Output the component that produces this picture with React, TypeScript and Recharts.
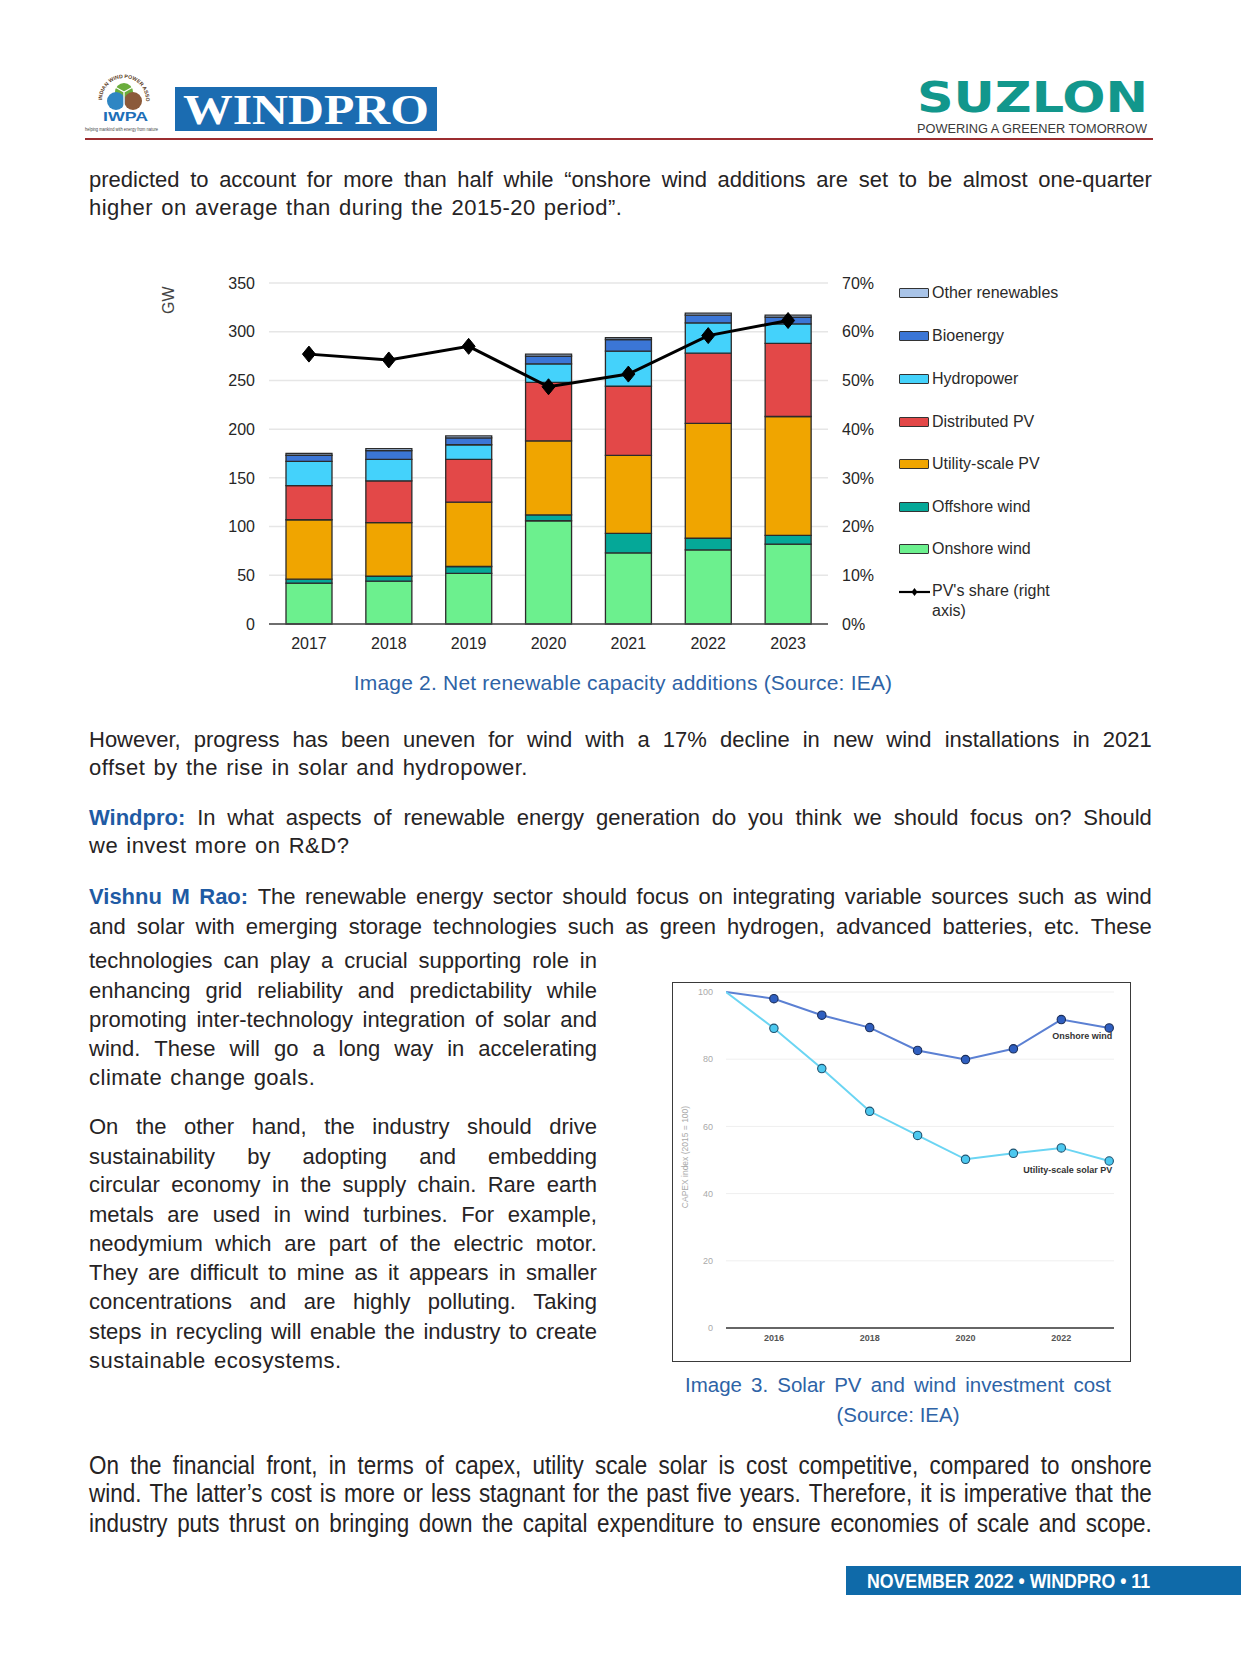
import React from 'react';
import { ComposedChart, LineChart, Bar, Line, XAxis, YAxis, CartesianGrid } from 'recharts';

// ---------- Chart 1 data (GW, net renewable capacity additions) ----------
const years = ['2017', '2018', '2019', '2020', '2021', '2022', '2023'];
const onshoreWind = [42, 44, 52, 106, 73, 76, 82];
const offshoreWind = [4, 5, 7, 6, 20, 12, 9];
const utilityPV = [61, 55, 66, 76, 80, 118, 122];
const distributedPV = [35, 43, 44, 60, 71, 72, 75];
const hydropower = [25, 22, 15, 19, 36, 31, 20];
const bioenergy = [6, 9, 7, 8, 12, 8, 7];
const otherRenewables = [2, 2, 2, 2, 2, 2, 2];
const pvShare = [55.4, 54.2, 57.0, 48.7, 51.3, 59.2, 62.3];
const gwTicks = [0, 50, 100, 150, 200, 250, 300, 350];
const pctTicks = [0, 10, 20, 30, 40, 50, 60, 70];

// ---------- Chart 2 data (CAPEX index, 2015 = 100) ----------
const capexYears = [2015, 2016, 2017, 2018, 2019, 2020, 2021, 2022, 2023];
const onshoreCapex = [100, 98.0, 93.1, 89.4, 82.6, 79.9, 83.1, 91.8, 89.3];
const solarCapex = [100, 89.2, 77.2, 64.5, 57.3, 50.2, 52.0, 53.6, 49.7];
const capexXTicks = [2016, 2018, 2020, 2022];
const capexYTicks = [0, 20, 40, 60, 80, 100];

const series = [
  { key: 'onshore', name: 'Onshore wind', color: '#6cf08e', values: onshoreWind },
  { key: 'offshore', name: 'Offshore wind', color: '#05a898', values: offshoreWind },
  { key: 'utility', name: 'Utility-scale PV', color: '#f0a500', values: utilityPV },
  { key: 'distributed', name: 'Distributed PV', color: '#e34848', values: distributedPV },
  { key: 'hydro', name: 'Hydropower', color: '#44d2fb', values: hydropower },
  { key: 'bio', name: 'Bioenergy', color: '#3b76d6', values: bioenergy },
  { key: 'other', name: 'Other renewables', color: '#a9c4e8', values: otherRenewables },
];

const barData = years.map((y, i) => {
  const row: any = { year: y, share: pvShare[i] };
  series.forEach((s) => { row[s.key] = s.values[i]; });
  return row;
});
const capexData = capexYears.map((y, i) => ({ year: y, onshore: onshoreCapex[i], solar: solarCapex[i] }));

// ---------- Text ----------
type TL = { t: string; y: number; j?: boolean; lead?: string };
const para1: TL[] = [
  { t: 'predicted to account for more than half while \u201Conshore wind additions are set to be almost one-quarter', y: 180.5, j: true },
  { t: 'higher on average than during the 2015-20 period\u201D.', y: 209 },
];
const para2: TL[] = [
  { t: 'However, progress has been uneven for wind with a 17% decline in new wind installations in 2021', y: 740.8, j: true },
  { t: 'offset by the rise in solar and hydropower.', y: 769.3 },
  { lead: 'Windpro:', t: 'In what aspects of renewable energy generation do you think we should focus on? Should', y: 818.9, j: true },
  { t: 'we invest more on R&D?', y: 847.4 },
  { lead: 'Vishnu M Rao:', t: 'The renewable energy sector should focus on integrating variable sources such as wind', y: 898, j: true },
  { t: 'and solar with emerging storage technologies such as green hydrogen, advanced batteries, etc. These', y: 927.6, j: true },
];
const colText: TL[] = [
  { t: 'technologies can play a crucial supporting role in', y: 962.4, j: true },
  { t: 'enhancing grid reliability and predictability while', y: 992, j: true },
  { t: 'promoting inter-technology integration of solar and', y: 1020.5, j: true },
  { t: 'wind. These will go a long way in accelerating', y: 1050, j: true },
  { t: 'climate change goals.', y: 1078.5 },
  { t: 'On the other hand, the industry should drive', y: 1128, j: true },
  { t: 'sustainability by adopting and embedding', y: 1157.7, j: true },
  { t: 'circular economy in the supply chain. Rare earth', y: 1186, j: true },
  { t: 'metals are used in wind turbines. For example,', y: 1215.7, j: true },
  { t: 'neodymium which are part of the electric motor.', y: 1245.3, j: true },
  { t: 'They are difficult to mine as it appears in smaller', y: 1273.7, j: true },
  { t: 'concentrations and are highly polluting. Taking', y: 1303.3, j: true },
  { t: 'steps in recycling will enable the industry to create', y: 1332.8, j: true },
  { t: 'sustainable ecosystems.', y: 1362.4 },
];
const paraLast: TL[] = [
  { t: 'On the financial front, in terms of capex, utility scale solar is cost competitive, compared to onshore', y: 1465.8, j: true },
  { t: 'wind. The latter\u2019s cost is more or less stagnant for the past five years. Therefore, it is imperative that the', y: 1494.3, j: true },
  { t: 'industry puts thrust on bringing down the capital expenditure to ensure economies of scale and scope.', y: 1523.9, j: true },
];

const BODY_FONT = "'Liberation Sans', Arial, Helvetica, sans-serif";
const bodyStyle: React.CSSProperties = { fontFamily: BODY_FONT, fontSize: 22, color: '#262324' };
const condStyle: React.CSSProperties = { fontFamily: BODY_FONT, fontSize: 25.5, color: '#262324' };
const leadStyle: React.CSSProperties = { fontWeight: 700, color: '#1f5ba4' };

function TextLine({ l, x, w, font, sx = 1 }: { l: TL; x: number; w: number; font: React.CSSProperties; sx?: number }) {
  const words = [
    ...(l.lead ? l.lead.split(' ').map((s) => ({ s, b: true })) : []),
    ...l.t.split(' ').map((s) => ({ s, b: false })),
  ];
  const common: React.CSSProperties = {
    position: 'absolute', left: x, top: l.y - 16, width: w / sx, height: 30, lineHeight: '30px', whiteSpace: 'nowrap',
    transform: sx !== 1 ? `scaleX(${sx})` : undefined, transformOrigin: '0 0', ...font,
  };
  if (l.j) {
    return (
      <div style={{ ...common, display: 'flex', justifyContent: 'space-between' }}>
        {words.map((a, i) => <span key={i} style={a.b ? leadStyle : undefined}>{a.s}</span>)}
      </div>
    );
  }
  return (
    <div style={{ ...common, letterSpacing: 0.5, wordSpacing: 1.5 }}>
      {words.map((a, i) => (
        <React.Fragment key={i}>{i > 0 ? ' ' : ''}<span style={a.b ? leadStyle : undefined}>{a.s}</span></React.Fragment>
      ))}
    </div>
  );
}

const Diamond = (p: any) => {
  const { cx, cy, index } = p;
  if (cx == null || cy == null) return <g key={`d-${index}`} />;
  return (
    <path key={`d-${index}`} d={`M${cx},${cy - 8} L${cx + 6.5},${cy} L${cx},${cy + 8} L${cx - 6.5},${cy} Z`} fill="#000" stroke="#000" strokeWidth={1} />
  );
};

const capexDot = (fill: string, stroke: string, label: string) => (p: any) => {
  const { cx, cy, index } = p;
  if (cx == null || cy == null || index === 0) return <g key={`c-${index}`} />;
  return (
    <g key={`c-${index}`}>
      <circle cx={cx} cy={cy} r={4.2} fill={fill} stroke={stroke} strokeWidth={1.1} />
      {index === capexYears.length - 1 ? (
        <text x={cx + 3} y={cy + 11.5} textAnchor="end" fontSize={9} fontWeight={700} fill="#333">{label}</text>
      ) : null}
    </g>
  );
};

const svgVis: React.CSSProperties = { position: 'absolute', overflow: 'visible' };

function IwpaLogo() {
  return (
    <svg style={{ ...svgVis, left: 82, top: 70 }} width={82} height={68}>
      <defs>
        <path id="arcP" d="M 20 30 A 22 22 0 0 1 64 30" />
      </defs>
      <text fontSize={5.2} fontWeight={700} fill="#5a3a22" fontFamily={BODY_FONT}>
        <textPath href="#arcP">INDIAN WIND POWER ASSOCIATION</textPath>
      </text>
      <circle cx={42} cy={22} r={9} fill="#6aad3d" />
      <circle cx={51} cy={31} r={9} fill="#8b5a3a" />
      <circle cx={34} cy={31} r={9} fill="#2f86c3" />
      <path d="M42 22 L42 40 M42 22 L33 17 M42 22 L51 17" stroke="#fff" strokeWidth={1.3} />
      <text x={21} y={51} fontSize={13} fontWeight={700} fill="#1d6fb8" fontFamily={BODY_FONT} textLength={45} lengthAdjust="spacingAndGlyphs">IWPA</text>
      <text x={3} y={61} fontSize={5} fill="#444" fontFamily={BODY_FONT} textLength={73} lengthAdjust="spacingAndGlyphs">helping mankind with energy from nature</text>
    </svg>
  );
}

function Header() {
  return (
    <>
      <IwpaLogo />
      <div style={{ position: 'absolute', left: 175, top: 87, width: 262, height: 44, background: '#1b6cb1' }} />
      <svg style={{ ...svgVis, left: 175, top: 87 }} width={262} height={44}>
        <text x={8} y={37} fontSize={42} fontWeight={700} fill="#fff" fontFamily="'Liberation Serif', 'Times New Roman', serif" textLength={246} lengthAdjust="spacingAndGlyphs">WINDPRO</text>
      </svg>
      <svg style={{ ...svgVis, left: 912, top: 74 }} width={245} height={64}>
        <text x={5} y={38} fontSize={42} fontWeight={700} fill="#12978c" fontFamily="'DejaVu Sans', sans-serif" textLength={231} lengthAdjust="spacingAndGlyphs">SUZLON</text>
        <text x={5} y={58.5} fontSize={12} fill="#3a3a3a" fontFamily={BODY_FONT} textLength={230} lengthAdjust="spacingAndGlyphs">POWERING A GREENER TOMORROW</text>
      </svg>
      <div style={{ position: 'absolute', left: 85, top: 138, width: 1068, height: 2, background: '#9b2d30' }} />
    </>
  );
}

const legendText: React.CSSProperties = { position: 'absolute', left: 932, fontSize: 16, lineHeight: '20px', color: '#2a2a2a', fontFamily: BODY_FONT, whiteSpace: 'nowrap' };

function BarLegend() {
  const items = [...series].reverse();
  const ys = [293, 336, 379, 421.5, 464, 507, 549];
  return (
    <>
      {items.map((s, i) => (
        <React.Fragment key={s.key}>
          <div style={{ position: 'absolute', left: 899, top: ys[i] - 5, width: 28, height: 8, background: s.color, border: '1px solid #333', borderRadius: 1 }} />
          <div style={{ ...legendText, top: ys[i] - 10 }}>{s.name}</div>
        </React.Fragment>
      ))}
      <svg style={{ position: 'absolute', left: 897, top: 584 }} width={36} height={16}>
        <line x1={2} y1={8} x2={33} y2={8} stroke="#000" strokeWidth={2.2} />
        <path d="M17.5,4 L20.5,8 L17.5,12 L14.5,8 Z" fill="#000" />
      </svg>
      <div style={{ ...legendText, top: 581 }}>
        PV's share (right<br />axis)
      </div>
    </>
  );
}

function CapacityChart() {
  return (
    <>
      <div style={{ position: 'absolute', left: 150, top: 263 }}>
        <ComposedChart width={750} height={400} data={barData} margin={{ top: 20, right: 0, bottom: 0, left: 0 }}>
          <CartesianGrid vertical={false} yAxisId="left" stroke="#e6e6e6" strokeWidth={1.5} />
          <XAxis dataKey="year" tickLine={false} axisLine={{ stroke: '#444', strokeWidth: 1.5 }} tick={{ fontSize: 16, fill: '#262626' }} height={39} tickMargin={8} />
          <YAxis yAxisId="left" domain={[0, 350]} ticks={gwTicks} width={119} axisLine={false} tickLine={false} tickMargin={8} tick={{ fontSize: 16, fill: '#262626' }} />
          <YAxis yAxisId="right" orientation="right" domain={[0, 70]} ticks={pctTicks} width={72} axisLine={false} tickLine={false} tickMargin={8} tick={{ fontSize: 16, fill: '#262626', textAnchor: 'start' }} tickFormatter={(v: number) => `${v}%`} />
          {series.map((s) => (
            <Bar key={s.key} yAxisId="left" dataKey={s.key} name={s.name} stackId="a" fill={s.color} stroke="#2b2b2b" strokeWidth={1.3} barSize={46} isAnimationActive={false} />
          ))}
          <Line yAxisId="right" dataKey="share" stroke="#000" strokeWidth={3} dot={Diamond} activeDot={false} isAnimationActive={false} />
        </ComposedChart>
      </div>
      <div style={{ position: 'absolute', left: 156, top: 290, width: 26, height: 22, fontSize: 16, lineHeight: '22px', color: '#444', fontFamily: BODY_FONT, transform: 'rotate(-90deg)', textAlign: 'center' }}>GW</div>
      <BarLegend />
    </>
  );
}

function CapexChart() {
  return (
    <>
      <div style={{ position: 'absolute', left: 672, top: 982, width: 459, height: 380, boxSizing: 'border-box', border: '1.6px solid #3a3a3a' }} />
      <div style={{ position: 'absolute', left: 672, top: 982 }}>
        <LineChart width={459} height={380} data={capexData} margin={{ top: 10, right: 17, bottom: 10, left: 14 }}>
          <CartesianGrid vertical={false} stroke="#efefef" />
          <XAxis type="number" dataKey="year" domain={[2015, 2023.1]} ticks={capexXTicks} allowDataOverflow tickLine={false} axisLine={{ stroke: '#666', strokeWidth: 2 }} tick={{ fontSize: 9, fill: '#555', fontWeight: 700 }} height={24} tickMargin={1} />
          <YAxis domain={[0, 100]} ticks={capexYTicks} width={40} axisLine={false} tickLine={false} tickMargin={7} tick={{ fontSize: 9, fill: '#aaa' }} />
          <Line dataKey="onshore" stroke="#5b80d3" strokeWidth={2} dot={capexDot('#2f5fc0', '#1b2e5a', 'Onshore wind')} activeDot={false} isAnimationActive={false} />
          <Line dataKey="solar" stroke="#6bd5f3" strokeWidth={2} dot={capexDot('#4cc8ef', '#1f5370', 'Utility-scale solar PV')} activeDot={false} isAnimationActive={false} />
        </LineChart>
      </div>
      <div style={{ position: 'absolute', left: 625, top: 1151, width: 120, height: 12, fontSize: 8.5, lineHeight: '12px', color: '#aaa', fontFamily: BODY_FONT, transform: 'rotate(-90deg)', textAlign: 'center', whiteSpace: 'nowrap' }}>CAPEX index (2015 = 100)</div>
    </>
  );
}

const captionStyle: React.CSSProperties = { position: 'absolute', fontFamily: BODY_FONT, fontSize: 20.5, color: '#2e63a6', whiteSpace: 'nowrap', lineHeight: '28px' };

export default function App() {
  return (
    <div style={{ position: 'absolute', left: 0, top: 0, width: 1241, height: 1654, background: '#fff', overflow: 'hidden', fontFamily: BODY_FONT }}>
      <Header />
      {para1.map((l, i) => <TextLine key={'p1' + i} l={l} x={89} w={1063} font={bodyStyle} />)}
      <CapacityChart />
      <div style={{ ...captionStyle, fontSize: 21, left: 336, top: 669, width: 574, textAlign: 'center', letterSpacing: 0.2 }}>Image 2. Net renewable capacity additions (Source: IEA)</div>
      {para2.map((l, i) => <TextLine key={'p2' + i} l={l} x={89} w={1063} font={bodyStyle} />)}
      {colText.map((l, i) => <TextLine key={'c' + i} l={l} x={89} w={508} font={bodyStyle} />)}
      <CapexChart />
      <div style={{ ...captionStyle, left: 685, top: 1371, width: 426, display: 'flex', justifyContent: 'space-between' }}>
        {'Image 3. Solar PV and wind investment cost'.split(' ').map((w, i) => <span key={i}>{w}</span>)}
      </div>
      <div style={{ ...captionStyle, left: 798, top: 1401, width: 200, textAlign: 'center' }}>(Source: IEA)</div>
      {paraLast.map((l, i) => <TextLine key={'pl' + i} l={l} x={89} w={1063} font={condStyle} sx={0.88} />)}
      <div style={{ position: 'absolute', left: 846, top: 1566, width: 395, height: 29, background: '#0f6aa9' }} />
      <svg style={{ ...svgVis, left: 846, top: 1566 }} width={395} height={29}>
        <text x={21} y={22} fontSize={20} fontWeight={700} fill="#fff" fontFamily={BODY_FONT} textLength={283} lengthAdjust="spacingAndGlyphs">{'NOVEMBER 2022 \u2022 WINDPRO \u2022 11'}</text>
      </svg>
    </div>
  );
}
